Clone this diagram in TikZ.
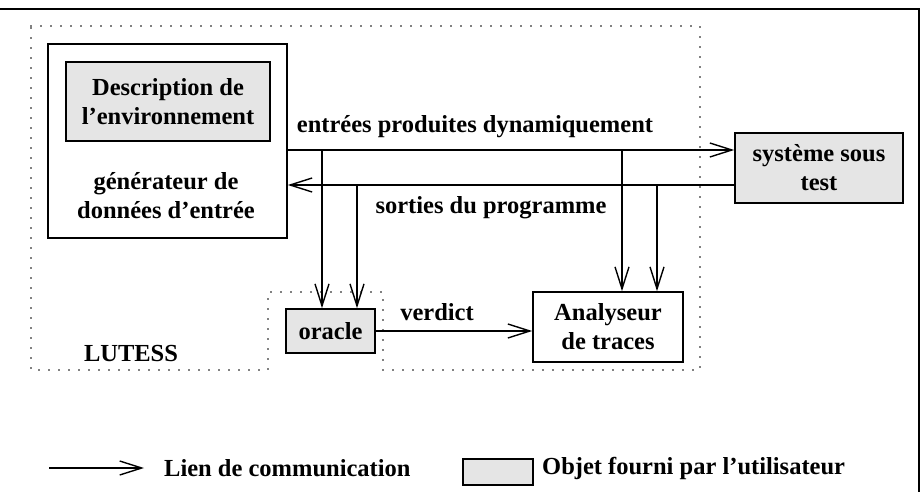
\documentclass[tikz,border=0pt]{standalone}
\usepackage{fontspec}
\setmainfont{Liberation Serif}
\usetikzlibrary{arrows.meta}
\begin{document}
\begin{tikzpicture}[x=1pt,y=-1pt,
  every node/.style={font=\fontsize{24.5}{29}\selectfont\bfseries, inner sep=0pt},
  box/.style={draw, line width=1.6pt, rectangle, align=center},
  userbox/.style={box, fill=gray!20},
  lbl/.style={align=center},
  arr/.style={line width=1.4pt, -{Straight Barb[length=22pt,width=14pt,line width=1.4pt]}},
  dotline/.style={line width=1.8pt, dash pattern=on 0pt off 10pt, line cap=round}]
\useasboundingbox (0,0) rectangle (921,492);
% outer frame (top and right)
\draw[line width=1.6pt] (0,9) -- (919,9) -- (919,492);
% LUTESS region
\draw[dotline] (31,26) -- (700,26) -- (700,370) -- (383,370) -- (383,292) -- (268,292) -- (268,370) -- (31,370) -- cycle;
% nodes
\node[box, minimum width=239pt, minimum height=194pt] (gen) at (167.5,141) {};
\node[userbox, minimum width=204pt, minimum height=79pt] (desc) at (168,101.5) {Description de\\l’environnement};
\node[lbl] (genl) at (166,196) {générateur de\\données d’entrée};
\node[userbox, minimum width=168pt, minimum height=70pt] (sys) at (819,168) {système sous\\test};
\node[userbox, minimum width=89pt, minimum height=44pt] (orc) at (330.5,331) {oracle};
\node[box, minimum width=150pt, minimum height=70pt] (ana) at (608,327) {Analyseur\\de traces};
\node[lbl] (lut) at (131,354) {LUTESS};
% connectors
\coordinate (in1) at (287,150);
\coordinate (out1) at (735,185);
\draw[arr] (in1) -- (sys.west |- in1);
\draw[arr] (out1) -- (gen.east |- out1);
\draw[arr] (322,150) -- (322,0 |- orc.north);
\draw[arr] (357,185) -- (357,0 |- orc.north);
\draw[arr] (622,150) -- (622,0 |- ana.north);
\draw[arr] (657,185) -- (657,0 |- ana.north);
\draw[arr] (orc.east) -- (ana.west |- orc.east);
% labels
\node[lbl] (lin) at (475,127) {entrées produites dynamiquement};
\node[lbl] (lout) at (491,208) {sorties du programme};
\node[lbl] (lver) at (437,312) {verdict};
% legend
\coordinate (la) at (49,468);
\coordinate (lb) at (144,468);
\draw[arr] (la) -- (lb);
\node[anchor=west] (lt1) at (164,468) {Lien de communication};
\node[userbox, minimum width=70pt, minimum height=26pt] (lg) at (498,472) {};
\node[anchor=west] (lt2) at (542,468) {Objet fourni par l’utilisateur};
\end{tikzpicture}
\end{document}
